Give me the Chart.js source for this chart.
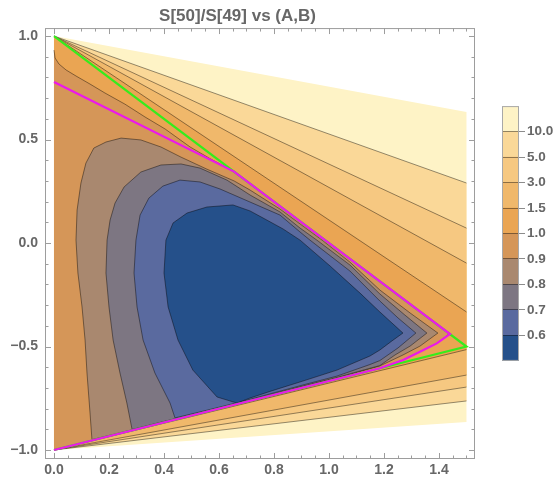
<!DOCTYPE html>
<html>
<head>
<meta charset="utf-8">
<script src="https://cdn.jsdelivr.net/npm/chart.js"></script>
<style>
  html, body { margin: 0; padding: 0; background: #ffffff; }
  #wrap { position: relative; width: 558px; height: 483px; }
  #main { position: absolute; left: 0; top: 0; }
  #bar { position: absolute; left: 502px; top: 96px; }
</style>
</head>
<body>
<div id="wrap">
  <canvas id="main" width="558" height="483"></canvas>
  <canvas id="bar" width="56" height="275"></canvas>
</div>
<script>
// contour levels of S[50]/S[49]; band i holds values below levels[i]
const levels = [0.6, 0.7, 0.8, 0.9, 1.0, 1.5, 3.0, 5.0, 10.0];
const levelLabels = ['0.6', '0.7', '0.8', '0.9', '1.0', '1.5', '3.0', '5.0', '10.0'];

const xTicks = [0, 0.2, 0.4, 0.6, 0.8, 1.0, 1.2, 1.4];
const xTickLabels = ['0.0', '0.2', '0.4', '0.6', '0.8', '1.0', '1.2', '1.4'];
const yTicks = [-1, -0.5, 0, 0.5, 1];
const yTickLabels = ['\u22121.0', '\u22120.5', '0.0', '0.5', '1.0'];

// sampled (A,B) region
const regionTop = [[0, 1], [1.5, 0.633]];
const regionBottom = [[1.5, -0.865], [0, -1]];

// straight contours through (0,1) and (0,-1): their B value at A = 1.5
const fanLevels = [10.0, 5.0, 3.0, 1.5];
const fanUpperEnd = [0.290, 0.072, -0.097, -0.333];
const fanLowerEnd = [-0.763, -0.696, -0.638, -0.515];

// closed contours (A, B)
const contour10 = [
  [0, -1], [0, 0.932], [0.004, 0.894], [0.018, 0.865], [0.044, 0.836], [0.080, 0.807],
  [0.131, 0.768], [0.185, 0.725], [0.258, 0.671], [0.331, 0.609], [0.404, 0.551],
  [0.495, 0.464], [0.567, 0.408], [0.655, 0.345], [1.0, 0.0], [1.438, -0.438],
  [1.392, -0.485], [1.331, -0.525], [1.270, -0.565], [1.185, -0.605]
];
const contour09 = [
  [0.138, -0.950], [0.131, -0.821], [0.120, -0.628], [0.113, -0.469], [0.102, -0.309],
  [0.087, -0.145], [0.080, 0.014], [0.084, 0.159], [0.098, 0.290], [0.116, 0.386],
  [0.145, 0.459], [0.189, 0.488], [0.244, 0.507], [0.316, 0.498], [0.389, 0.464],
  [0.462, 0.415], [0.556, 0.357], [0.655, 0.300], [0.713, 0.256], [0.822, 0.164],
  [0.895, 0.092], [0.975, 0.014], [1.076, -0.092], [1.185, -0.227], [1.295, -0.338],
  [1.396, -0.435], [1.331, -0.498], [1.269, -0.541], [1.185, -0.594], [1.029, -0.652],
  [0.905, -0.693], [0.785, -0.734], [0.665, -0.776], [0.531, -0.820], [0.385, -0.868],
  [0.240, -0.917], [0.138, -0.950]
];
const contour08 = [
  [0.284, -0.901], [0.265, -0.773], [0.240, -0.628], [0.215, -0.469], [0.200, -0.309],
  [0.189, -0.145], [0.193, 0.014], [0.204, 0.111], [0.222, 0.193], [0.255, 0.271],
  [0.316, 0.343], [0.389, 0.377], [0.462, 0.382], [0.531, 0.362], [0.629, 0.304],
  [0.713, 0.232], [0.822, 0.150], [0.895, 0.072], [0.956, 0.014], [1.076, -0.106],
  [1.185, -0.246], [1.276, -0.348], [1.356, -0.435], [1.295, -0.498], [1.240, -0.541],
  [1.185, -0.592], [1.029, -0.649], [0.905, -0.691], [0.785, -0.733], [0.665, -0.775],
  [0.531, -0.819], [0.385, -0.867], [0.284, -0.901]
];
const contour07 = [
  [0.440, -0.845], [0.422, -0.773], [0.367, -0.628], [0.324, -0.469], [0.302, -0.309],
  [0.291, -0.145], [0.298, 0.014], [0.313, 0.135], [0.345, 0.217], [0.396, 0.275],
  [0.458, 0.304], [0.531, 0.295], [0.604, 0.261], [0.713, 0.198], [0.822, 0.135],
  [0.895, 0.053], [0.931, 0.014], [1.076, -0.135], [1.185, -0.280], [1.251, -0.362],
  [1.316, -0.435], [1.251, -0.507], [1.185, -0.568], [1.149, -0.587], [1.029, -0.643],
  [0.905, -0.686], [0.785, -0.729], [0.665, -0.772], [0.531, -0.816], [0.440, -0.845]
];
const contour06 = [
  [0.665, -0.773], [0.593, -0.744], [0.505, -0.614], [0.451, -0.469], [0.415, -0.309],
  [0.400, -0.145], [0.407, 0.014], [0.433, 0.097], [0.484, 0.145], [0.556, 0.174],
  [0.651, 0.184], [0.713, 0.155], [0.767, 0.116], [0.833, 0.068], [0.895, 0.014],
  [1.004, -0.111], [1.113, -0.242], [1.185, -0.333], [1.269, -0.435], [1.229, -0.473],
  [1.185, -0.517], [1.149, -0.546], [1.029, -0.614], [0.905, -0.667], [0.785, -0.717],
  [0.713, -0.749], [0.665, -0.773]
];

// overlaid boundary curves
const magentaCurve = [
  [0, 0.778], [0.655, 0.345], [1.0, 0.0], [1.44, -0.44], [1.392, -0.485],
  [1.331, -0.525], [1.270, -0.565], [1.185, -0.605], [0, -1]
];
const greenCurve = [[0, 1], [1.5, -0.5], [0, -1]];

// fill colours, lowest band first; the last one is above 10
const bandColors = ['#25508a', '#5a6a9f', '#7d7682', '#a9886f', '#d59658',
                    '#eaa553', '#f0b86b', '#f6c881', '#fad898', '#fef3c6'];
const lineColor = 'rgba(0,0,0,0.42)';
const labelColor = '#676767';
const fontFamily = '"Liberation Sans", Arial, sans-serif';

const toPts = arr => arr.map(p => ({ x: p[0], y: p[1] }));

// filled sublevel region (no outline)
function area(points, color, order) {
  return {
    data: toPts(points), showLine: true, fill: 'shape',
    backgroundColor: color, borderWidth: 0, pointRadius: 0, tension: 0, order: order
  };
}
// contour line
function contourLine(points, order) {
  return {
    data: toPts(points), showLine: true, fill: false,
    borderColor: lineColor, borderWidth: 1, pointRadius: 0, tension: 0, order: order
  };
}

const datasets = [];
// whole region, values above 10
datasets.push(area(regionTop.concat(regionBottom), bandColors[9], 40));
fanLevels.forEach((lv, i) => {
  const color = bandColors[levels.indexOf(lv)];
  datasets.push(area([[0, 1], [1.5, fanUpperEnd[i]], [1.5, fanLowerEnd[i]], [0, -1]], color, 39 - i * 2));
  datasets.push(contourLine([[0, 1], [1.5, fanUpperEnd[i]]], 38.5 - i * 2));
  datasets.push(contourLine([[0, -1], [1.5, fanLowerEnd[i]]], 38.5 - i * 2));
});
// the 1.0 region touches A = 0, so its outline leaves out that edge
datasets.push(area(contour10, bandColors[4], 25));
datasets.push(contourLine(contour10.slice(1).concat([contour10[0]]), 24.5));
[[contour09, 0.9], [contour08, 0.8], [contour07, 0.7], [contour06, 0.6]].forEach(([c, lv], i) => {
  datasets.push(area(c, bandColors[levels.indexOf(lv)], 20 - i * 2));
  datasets.push(contourLine(c, 19.5 - i * 2));
});

datasets.push({
  data: toPts(greenCurve), showLine: true, fill: false, borderColor: '#35ec1c',
  borderWidth: 2.2, pointRadius: 0, tension: 0, order: 2
});
datasets.push({
  data: toPts(magentaCurve), showLine: true, fill: false, borderColor: '#ec18ec',
  borderWidth: 2.2, pointRadius: 0, tension: 0, order: 1
});

// frame with inward tick marks on all four sides
const framePlugin = {
  id: 'frame',
  afterDraw(chart) {
    const { ctx, chartArea: a } = chart;
    const sx = chart.scales.x, sy = chart.scales.y;
    ctx.save();
    ctx.strokeStyle = '#9d9d9d';
    ctx.lineWidth = 1;
    ctx.strokeRect(a.left + 0.5, a.top + 0.5, a.right - a.left - 1, a.bottom - a.top - 1);
    ctx.beginPath();
    for (let k = 0; k <= 30; k++) {
      const v = k * 0.05;
      const len = (k % 4 === 0) ? 6 : 3.5;
      const px = Math.round(sx.getPixelForValue(v)) + 0.5;
      ctx.moveTo(px, a.bottom); ctx.lineTo(px, a.bottom - len);
      ctx.moveTo(px, a.top); ctx.lineTo(px, a.top + len);
    }
    for (let k = -10; k <= 10; k++) {
      const v = k * 0.1;
      const len = (k % 5 === 0) ? 6 : 3.5;
      const py = Math.round(sy.getPixelForValue(v)) + 0.5;
      ctx.moveTo(a.left, py); ctx.lineTo(a.left + len, py);
      ctx.moveTo(a.right, py); ctx.lineTo(a.right - len, py);
    }
    ctx.stroke();
    ctx.restore();
  }
};

new Chart(document.getElementById('main'), {
  type: 'scatter',
  data: { datasets: datasets },
  options: {
    responsive: false,
    animation: false,
    events: [],
    layout: { padding: { left: 0, right: 83, top: 0, bottom: 0 } },
    plugins: {
      legend: { display: false },
      tooltip: { enabled: false },
      title: {
        display: true,
        text: 'S[50]/S[49] vs (A,B)',
        color: labelColor,
        font: { family: fontFamily, size: 17, weight: 'bold', lineHeight: 1.18 },
        padding: { top: 6, bottom: 2 }
      }
    },
    scales: {
      x: {
        type: 'linear', min: -0.0327, max: 1.531,
        grid: { display: false, drawTicks: false },
        border: { display: false },
        afterBuildTicks: s => { s.ticks = xTicks.map(v => ({ value: v })); },
        afterFit: s => { s.height = 24; },
        ticks: {
          callback: (v, i) => xTickLabels[i],
          color: labelColor, padding: 3, maxRotation: 0, autoSkip: false,
          font: { family: fontFamily, size: 14, weight: 'bold' }
        }
      },
      y: {
        type: 'linear', min: -1.0435, max: 1.0386,
        grid: { display: false, drawTicks: false },
        border: { display: false },
        afterBuildTicks: s => { s.ticks = yTicks.map(v => ({ value: v })); },
        afterFit: s => { s.width = 45; },
        ticks: {
          callback: (v, i) => yTickLabels[i],
          color: labelColor, padding: 7, autoSkip: false,
          font: { family: fontFamily, size: 14, weight: 'bold' }
        }
      }
    }
  },
  plugins: [framePlugin]
});

// colour bar legend
const barFrame = {
  id: 'barFrame',
  afterDraw(chart) {
    const { ctx, chartArea: a } = chart;
    ctx.save();
    ctx.strokeStyle = '#a8a8a8';
    ctx.lineWidth = 1;
    ctx.strokeRect(a.left + 0.5, a.top + 0.5, a.right - a.left - 1, a.bottom - a.top - 1);
    ctx.restore();
  }
};

new Chart(document.getElementById('bar'), {
  type: 'bar',
  data: {
    labels: [''],
    datasets: bandColors.map(c => ({
      data: [1], backgroundColor: c, borderWidth: 0,
      barPercentage: 1, categoryPercentage: 1
    }))
  },
  options: {
    responsive: false,
    animation: false,
    events: [],
    layout: { padding: { left: 0, right: 0, top: 8, bottom: 8 } },
    plugins: { legend: { display: false }, tooltip: { enabled: false } },
    scales: {
      x: { display: false, stacked: true },
      y: {
        position: 'right', stacked: true, min: 0, max: 10,
        afterBuildTicks: s => { s.ticks = levels.map((v, i) => ({ value: i + 1 })); },
        afterFit: s => { s.width = 39; },
        grid: { color: lineColor, tickColor: '#8c8c8c', tickLength: 6, drawTicks: true, z: 1 },
        border: { display: false },
        ticks: {
          callback: (v, i) => levelLabels[i],
          color: labelColor, padding: 2, autoSkip: false,
          font: { family: fontFamily, size: 13.5, weight: 'bold' }
        }
      }
    }
  },
  plugins: [barFrame]
});
</script>
</body>
</html>
